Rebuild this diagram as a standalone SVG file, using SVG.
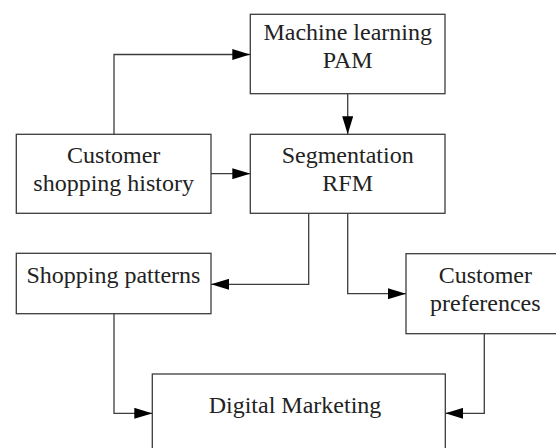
<svg xmlns="http://www.w3.org/2000/svg" width="556" height="448" viewBox="0 0 556 448">
  <style>
    .box { fill: #ffffff; stroke: #3c3c3c; stroke-width: 1.3; }
    .lbl { font-family: "Liberation Serif", "Times New Roman", serif; font-size: 24px; fill: #222222; text-anchor: middle; }
    .wire { fill: none; stroke: #3c3c3c; stroke-width: 1.3; marker-end: url(#arrow); }
  </style>
  <defs>
    <marker id="arrow" markerUnits="userSpaceOnUse" markerWidth="18" markerHeight="11" refX="18" refY="5.5" orient="auto">
      <path d="M0,0 L18,5.5 L0,11 Z" fill="#000000"/>
    </marker>
  </defs>

  <rect width="556" height="448" fill="#ffffff"/>

  <g id="connectors">
    <path class="wire" d="M114,134.3 V54.5 H250.3"/>
    <path class="wire" d="M211,173.7 H250.3"/>
    <path class="wire" d="M347.7,93.7 V134.3"/>
    <path class="wire" d="M308.7,213.3 V284.3 H211"/>
    <path class="wire" d="M347.7,213.3 V293.7 H406"/>
    <path class="wire" d="M114,313.7 V413.3 H152.3"/>
    <path class="wire" d="M484.3,333.7 V413.3 H445.3"/>
  </g>

  <g id="machine-learning">
    <rect class="box" x="250.3" y="14.3" width="194.7" height="79.4"/>
    <text class="lbl" x="347.7" y="40">Machine learning</text>
    <text class="lbl" x="347.7" y="68">PAM</text>
  </g>

  <g id="segmentation">
    <rect class="box" x="250.3" y="134.3" width="194.7" height="79"/>
    <text class="lbl" x="347.7" y="162.7">Segmentation</text>
    <text class="lbl" x="347.7" y="190.7">RFM</text>
  </g>

  <g id="shopping-history">
    <rect class="box" x="16.3" y="134.3" width="194.7" height="79"/>
    <text class="lbl" x="113.7" y="163.3">Customer</text>
    <text class="lbl" x="113.7" y="190.5">shopping history</text>
  </g>

  <g id="shopping-patterns">
    <rect class="box" x="16.3" y="253.3" width="194.7" height="60.4"/>
    <text class="lbl" x="113.4" y="283.3">Shopping patterns</text>
  </g>

  <g id="customer-preferences">
    <rect class="box" x="406" y="253.7" width="158" height="80"/>
    <text class="lbl" x="485.3" y="283.3">Customer</text>
    <text class="lbl" x="485.3" y="310.7">preferences</text>
  </g>

  <g id="digital-marketing">
    <rect class="box" x="152.3" y="374" width="293" height="80"/>
    <text class="lbl" x="295" y="413.3">Digital Marketing</text>
  </g>
</svg>
